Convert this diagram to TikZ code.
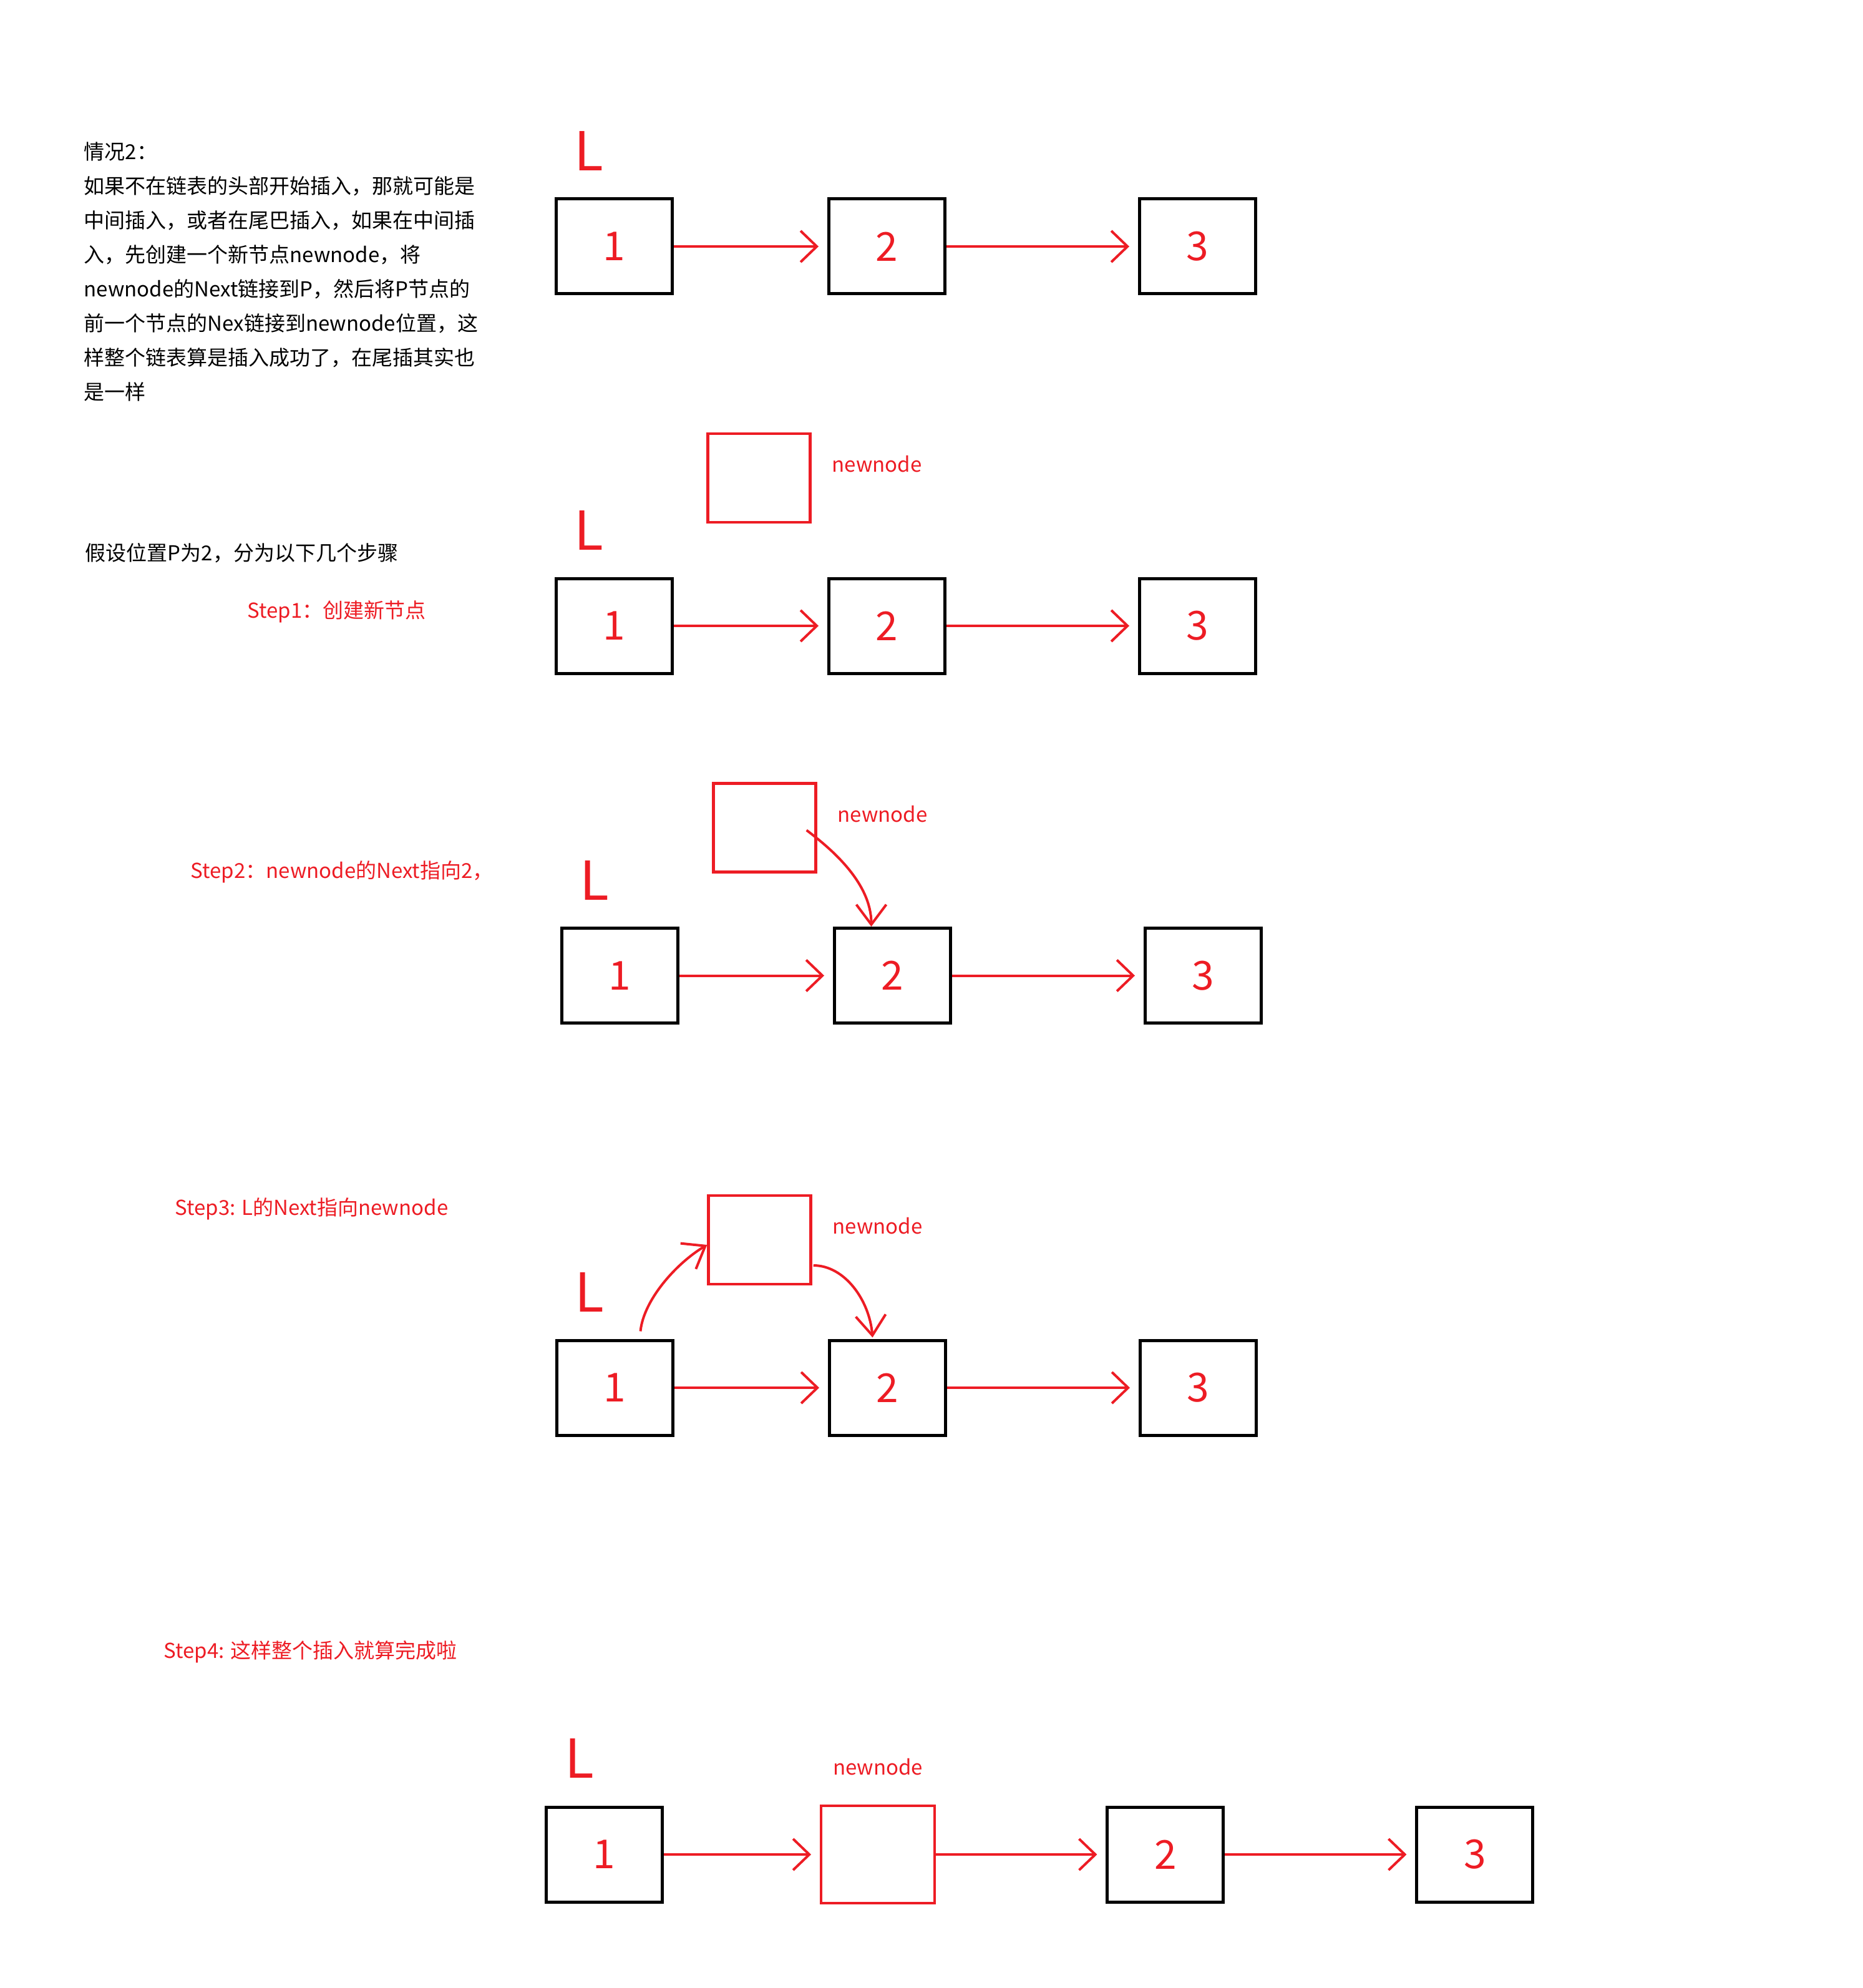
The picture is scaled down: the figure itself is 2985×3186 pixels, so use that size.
\documentclass[tikz,border=0pt]{standalone}
\usepackage{fontspec}
\newfontfamily\cjk{Noto Sans CJK SC}
\usetikzlibrary{arrows.meta,positioning,calc}
\definecolor{pred}{RGB}{237,28,36}
\newcommand{\txtfont}{\cjk\fontsize{8.25pt}{13.75pt}\selectfont}
\newcommand{\digitfont}{\cjk\fontsize{16pt}{16pt}\selectfont}
\newcommand{\headfont}{\cjk\fontsize{21.5pt}{21.5pt}\selectfont}
\tikzset{
  cell/.style={draw=black,line width=1.25pt,minimum width=46.5pt,minimum height=38pt,
    inner sep=0pt,text=pred,font=\digitfont},
  fresh/.style={draw=pred,line width=1.1pt,minimum width=41pt,minimum height=35.5pt,inner sep=0pt},
  link/.style={pred,line width=1pt,-{Straight Barb[length=6.5pt,width=12.5pt]},shorten >=3.5pt},
  curvelink/.style={link,shorten >=0pt,-{Straight Barb[length=8pt,width=12pt]}},
  headl/.style={text=pred,font=\headfont,inner sep=0pt,anchor=south west},
  tag/.style={text=pred,font=\txtfont,inner sep=0pt},
  note/.style={font=\txtfont,inner sep=0pt,align=left},
  stepnote/.style={note,text=pred,anchor=west},
}

\begin{document}
\begin{tikzpicture}[x=0.25pt,y=-0.25pt]
\useasboundingbox (0,0) rectangle (2985,3186);

% ---- explanation column ----
\node[note,anchor=north west] (intro) at (134,227)
  {情况2：\\
   如果不在链表的头部开始插入，那就可能是\\
   中间插入，或者在尾巴插入，如果在中间插\\
   入，先创建一个新节点newnode，将\\
   newnode的Next链接到P，然后将P节点的\\
   前一个节点的Nex链接到newnode位置，这\\
   样整个链表算是插入成功了，在尾插其实也\\
   是一样};
\node[note,anchor=west] (assume) at (136,886) {假设位置P为2，分为以下几个步骤};
\node[stepnote] (s1) at (396,980) {Step1：创建新节点};
\node[stepnote] (s2) at (305,1397) {Step2：newnode的Next指向2，};
\node[stepnote] (s3) at (280,1937) {Step3: L的Next指向newnode};
\node[stepnote] (s4) at (262,2647) {Step4: 这样整个插入就算完成啦};

% ---- row 1 : the list ----
\node[cell] (r1a) at (984.5,395) {1};
\node[cell,right=61.5pt of r1a] (r1b) {2};
\node[cell,right=76.75pt of r1b] (r1c) {3};
\node[headl] (r1L) at ($(r1a.north west)+(31,-42)$) {L};
\draw[link] (r1a.east) -- (r1b.west);
\draw[link] (r1b.east) -- (r1c.west);

% ---- row 2 : step 1 ----
\node[cell] (r2a) at (984.5,1003) {1};
\node[cell,right=61.5pt of r2a] (r2b) {2};
\node[cell,right=76.75pt of r2b] (r2c) {3};
\node[headl] (r2L) at ($(r2a.north west)+(31,-42)$) {L};
\node[fresh] (r2n) at ($(r2a.center)+(232,-237)$) {};
\node[tag,anchor=west] (r2t) at ($(r2n.east)+(32,-22)$) {newnode};
\draw[link] (r2a.east) -- (r2b.west);
\draw[link] (r2b.east) -- (r2c.west);

% ---- row 3 : step 2 ----
\node[cell] (r3a) at (993.5,1563.5) {1};
\node[cell,right=61.5pt of r3a] (r3b) {2};
\node[cell,right=76.75pt of r3b] (r3c) {3};
\node[headl] (r3L) at ($(r3a.north west)+(31,-42)$) {L};
\node[fresh] (r3n) at ($(r3a.center)+(232,-237)$) {};
\node[tag,anchor=west] (r3t) at ($(r3n.east)+(32,-22)$) {newnode};
\draw[link] (r3a.east) -- (r3b.west);
\draw[link] (r3b.east) -- (r3c.west);
\draw[curvelink] ($(r3n.east)+(-17,4)$) .. controls +(40,30) and +(0,-70) .. ($(r3b.north)+(-34,0)$);

% ---- row 4 : step 3 ----
\node[cell] (r4a) at (985.5,2224) {1};
\node[cell,right=61.5pt of r4a] (r4b) {2};
\node[cell,right=76.75pt of r4b] (r4c) {3};
\node[headl] (r4L) at ($(r4a.north west)+(31,-42)$) {L};
\node[fresh] (r4n) at ($(r4a.center)+(232,-237)$) {};
\node[tag,anchor=west] (r4t) at ($(r4n.east)+(32,-22)$) {newnode};
\draw[link] (r4a.east) -- (r4b.west);
\draw[link] (r4b.east) -- (r4c.west);
\draw[curvelink] ($(r4a.north)+(41,-12)$) .. controls +(5,-50) and +(-50,30) .. ($(r4n.west)+(0,8)$);
\draw[curvelink] ($(r4n.east)+(2,41)$) .. controls +(50,0) and +(-5,-60) .. ($(r4b.north)+(-24,-2)$);

% ---- row 5 : step 4, newnode linked in ----
\node[cell] (r5a) at (968.5,2972) {1};
\node[fresh,minimum width=45.5pt,minimum height=39pt,right=62.5pt of r5a] (r5n) {};
\node[cell,right=68pt of r5n] (r5b) {2};
\node[cell,right=76.25pt of r5b] (r5c) {3};
\node[headl] (r5L) at ($(r5a.north west)+(32,-43)$) {L};
\node[tag,above=11.5pt of r5n] (r5t) {newnode};
\draw[link] (r5a.east) -- (r5n.west);
\draw[link] (r5n.east) -- (r5b.west);
\draw[link] (r5b.east) -- (r5c.west);
\end{tikzpicture}
\end{document}
